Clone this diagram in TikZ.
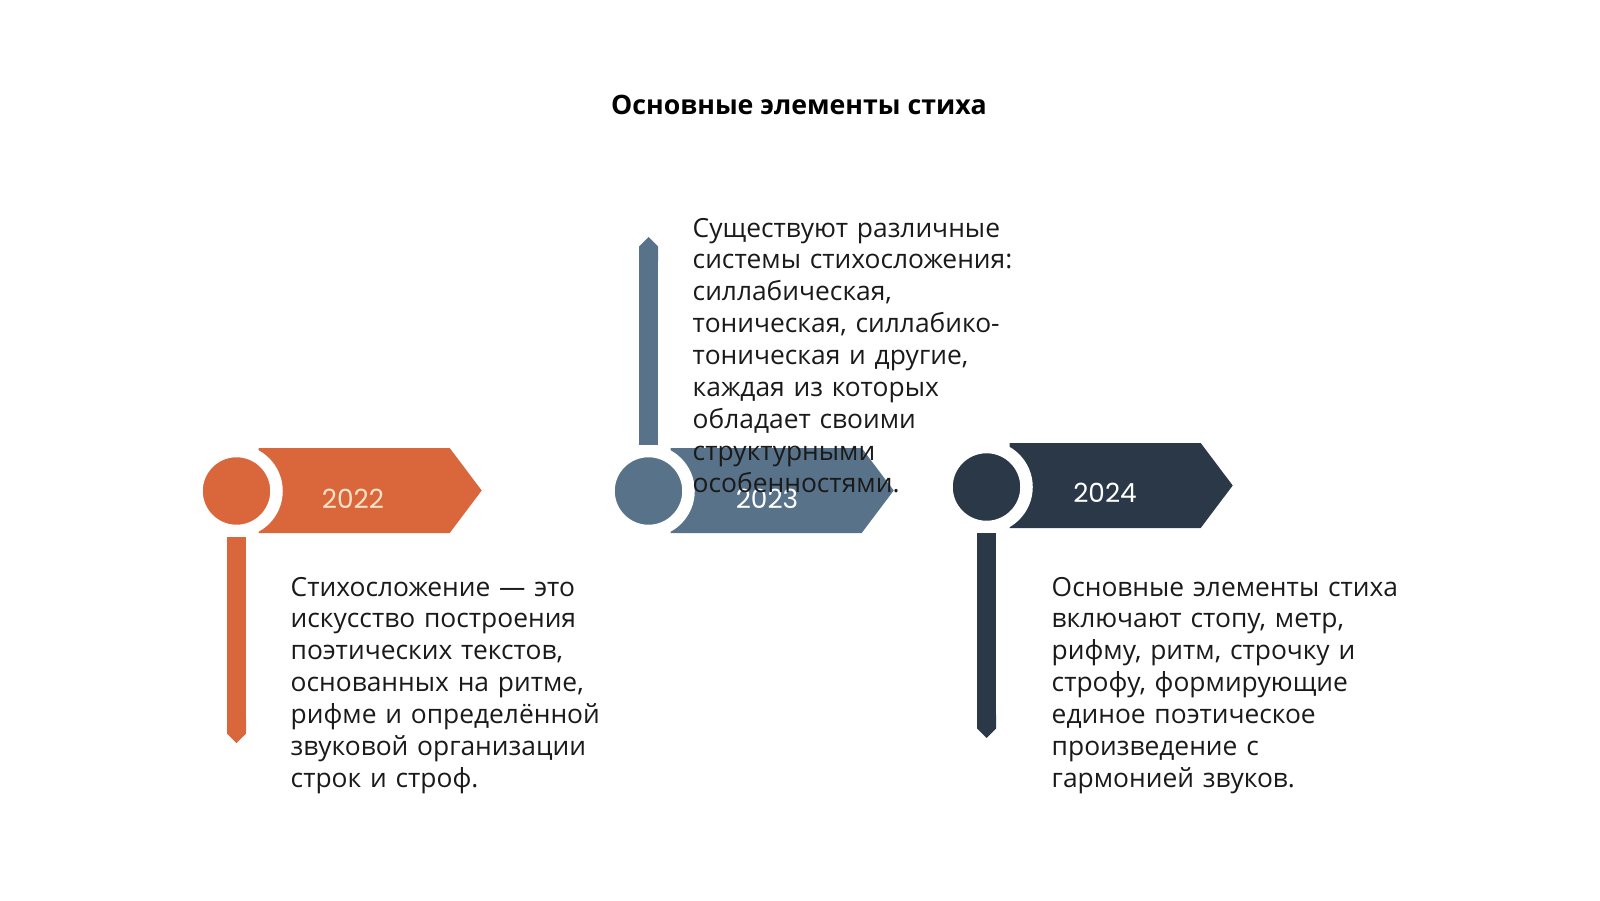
\documentclass[tikz,border=0pt]{standalone}
\usepackage{fontspec}
\setmainfont{Open Sans}
\newfontfamily\yearfont{Poppins}
\usepackage{xcolor}
\usetikzlibrary{shapes.symbols}
\usetikzlibrary{arrows.meta}

\definecolor{rust}{HTML}{DA663C}
\definecolor{slate}{HTML}{587389}
\definecolor{navy}{HTML}{2B3847}
\definecolor{peach}{HTML}{FCE3C8}
\definecolor{ink}{HTML}{1A1A1A}

\begin{document}
\begin{tikzpicture}[
  band/.style={shape=signal, signal to=east, signal pointer angle=106, minimum width=2.23cm, minimum height=0.85cm, inner sep=0pt, anchor=west},
  knob/.style={circle, draw=white, line width=0.125cm, minimum size=0.8cm, inner sep=0pt},
  stem/.style={line width=\w, -{Triangle Cap}},
  year/.style={font=\yearfont\fontsize{7.5pt}{9pt}\selectfont, anchor=base, inner sep=0pt},
  body/.style={font=\fontsize{7.5pt}{9.07pt}\selectfont, text=ink, anchor=base west, text width=4.2cm, align=left, inner sep=0pt}
]
\def\w{0.19cm}
\useasboundingbox (0,0) rectangle (16,9);

\node [font=\bfseries\fontsize{7.6pt}{9pt}\selectfont, text=black, anchor=base, name=title] at (7.99,7.85) {Основные элементы стиха};

\node [band, fill=rust, name=b1]  at (2.58,4.095) {};
\node [band, fill=slate, name=b2] at (6.70,4.095) {};
\node [band, fill=navy, name=b3]  at (10.09,4.145) {};

\node [knob, fill=rust, name=c1]  at (2.365,4.09) {};
\node [knob, fill=slate, name=c2] at (6.485,4.09) {};
\node [knob, fill=navy, name=c3]  at (9.865,4.13) {};

\coordinate (s1) at (2.365,1.57);
\coordinate (s2) at (6.485,6.63);
\coordinate (s3) at (9.865,1.62);
\draw [stem, rust](c1.south) to (s1);
\draw [stem, slate](c2.north) to (s2);
\draw [stem, navy](c3.south) to (s3);

\node [year, text=peach, name=y1] at (3.53,3.92) {2022};
\node [year, text=white, name=y2] at (7.67,3.92) {2023};
\node [year, text=white, name=y3] at (11.05,3.98) {2024};

\node [body, name=t1] at (2.90,3.04) {Стихосложение — это\\искусство построения\\поэтических текстов,\\основанных на ритме,\\рифме и определённой\\звуковой организации\\строк и строф.};
\node [body, name=t2] at (6.92,6.63) {Существуют различные\\системы стихосложения:\\силлабическая,\\тоническая, силлабико-\\тоническая и другие,\\каждая из которых\\обладает своими\\структурными\\особенностями.};
\node [body, name=t3] at (10.51,3.04) {Основные элементы стиха\\включают стопу, метр,\\рифму, ритм, строчку и\\строфу, формирующие\\единое поэтическое\\произведение с\\гармонией звуков.};
%\node at (8,0.5) {};
\end{tikzpicture}
\end{document}
